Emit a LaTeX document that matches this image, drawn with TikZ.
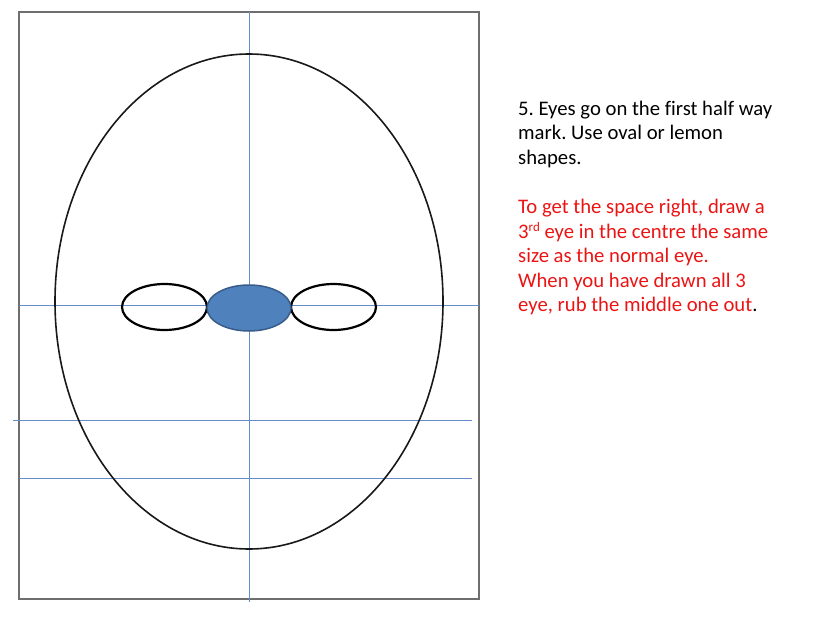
\documentclass[tikz,border=0pt]{standalone}
\usepackage{fontspec}
\setmainfont{Carlito}[Ligatures=NoCommon]
\definecolor{guidecol}{RGB}{100,140,200}
\definecolor{eyefill}{RGB}{79,129,189}
\definecolor{eyeedge}{RGB}{56,93,138}
\definecolor{framegray}{RGB}{110,110,110}
\definecolor{txtred}{RGB}{235,20,20}
\begin{document}
\begin{tikzpicture}[x=1pt,y=-1pt,
  guideline/.style={draw=guidecol,line width=1.1pt},
  frameline/.style={draw=framegray,line width=1.3pt},
  headline/.style={draw=black!90,line width=1.6pt},
  eyeline/.style={draw=black,line width=2.2pt},
  txt/.style={anchor=base west,inner sep=0pt,font=\fontsize{20.7}{24}\selectfont\frenchspacing},
  redtxt/.style={txt,text=txtred}]
\useasboundingbox (0,0) rectangle (828,621);
% frame
\draw[frameline] (19,12) rectangle (479,599);
% guides
\coordinate (vt) at (249.5,12);
\coordinate (vb) at (249.5,602);
\draw[guideline] (vt) -- (vb);
\coordinate (h1l) at (19,305.5); \coordinate (h1r) at (479,305.5);
\coordinate (h2l) at (13,420.5); \coordinate (h2r) at (472,420.5);
\coordinate (h3l) at (19,478.5); \coordinate (h3r) at (472,478.5);
\draw[guideline] (h1l) -- (h1r);
\draw[guideline] (h2l) -- (h2r);
\draw[guideline] (h3l) -- (h3r);
% head
\draw[headline] (249,301.5) ellipse [x radius=194, y radius=247.5];
% eyes
\draw[eyeline] (164.5,307) ellipse [x radius=42.5, y radius=23];
\draw[eyeline] (333.5,307) ellipse [x radius=42.5, y radius=23];
\draw[fill=eyefill,draw=eyeedge,line width=1.5pt] (249,308) ellipse [x radius=42, y radius=23];
% text
\node[txt] (t1) at (518,115) {5. Eyes go on the first half way};
\node[txt] (t2) at (518,139.5) {mark. Use oval or lemon};
\node[txt] (t3) at (518,164) {shapes.};
\node[redtxt] (r1) at (518,213.5) {To get the space right, draw a};
\node[redtxt] (r2) at (518,238) {3\raisebox{0.65ex}{\fontsize{13}{13}\selectfont rd} eye in the centre the same};
\node[redtxt] (r3) at (518,262.5) {size as the normal eye.};
\node[redtxt] (r4) at (518,287) {When you have drawn all 3};
\node[redtxt] (r5) at (518,311.5) {eye, rub the middle one out\textcolor{black}{.}};
\end{tikzpicture}
\end{document}
